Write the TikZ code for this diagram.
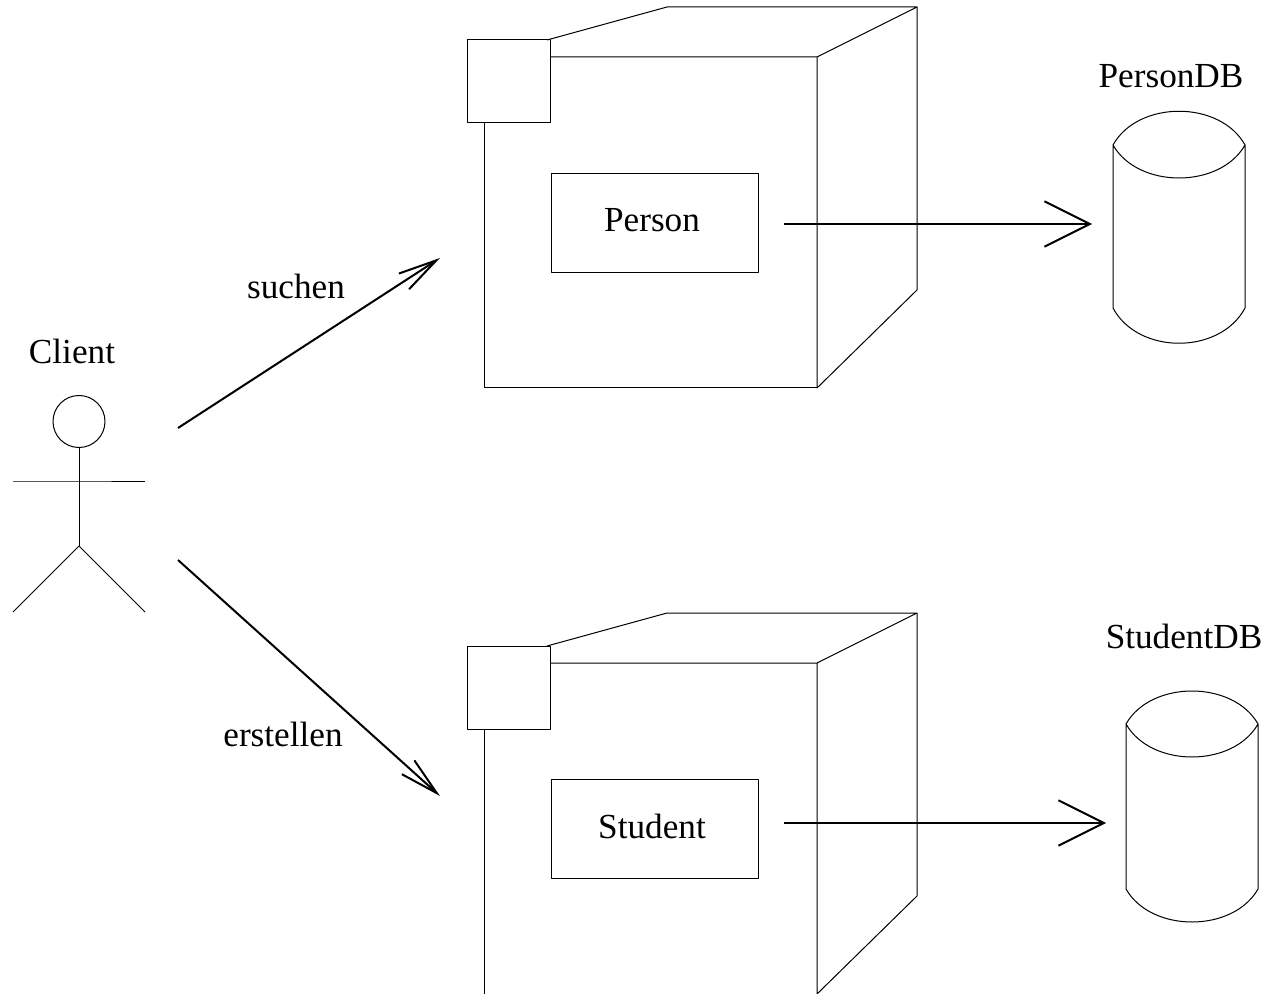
\documentclass[tikz,border=0pt]{standalone}
\usepackage{fontspec}
\setmainfont{Liberation Serif}
\usetikzlibrary{arrows.meta}

\begin{document}
\begin{tikzpicture}[x=0.75pt,y=-0.75pt]
  \tikzstyle{LabelStyle}=[inner sep=0pt,font=\fontsize{26.4}{30}\selectfont]
  \tikzstyle{LineStyle}=[line width=0.75pt,line join=round]
  \tikzstyle{BoxStyle}=[LineStyle,draw,inner sep=0pt]
  \tikzstyle{UseStyle}=[line width=1.5pt,-{Straight Barb[length=29pt,width=14pt,line width=1.5pt]}]
  \tikzstyle{StoreStyle}=[line width=1.5pt,-{Straight Barb[length=34pt,width=34pt,line width=1.5pt]}]
  \useasboundingbox (0,0) rectangle (1270,994);
  % client
  \node[BoxStyle,circle,minimum size=39pt] (Head) at (79,421.5) {};
  \coordinate (Hip) at (79,546);
  \coordinate (ArmL) at (13,481);
  \coordinate (ArmR) at (145,481);
  \coordinate (Neck) at (79,481);
  \coordinate (FootL) at (13,612);
  \coordinate (FootR) at (145,612);
  \draw[LineStyle] (Head.south) -- (Hip);
  \draw[LineStyle] (ArmL) -- (Neck) -- (ArmR);
  \draw[LineStyle] (FootL) -- (Hip) -- (FootR);
  \node[LabelStyle] (Client) at (72,351) {Client};
  % person component
  \node[BoxStyle,minimum width=62.25pt,minimum height=62.25pt] (PortA) at (509,81.5) {};
  \node[BoxStyle,minimum width=155.25pt,minimum height=74.25pt] (BoxA) at (654.5,223) {};
  \coordinate (A1) at (667,7);
  \coordinate (A2) at (917,7);
  \coordinate (A3) at (917,290);
  \coordinate (A4) at (817,57);
  \coordinate (A5) at (817,388);
  \coordinate (A6) at (484,388);
  \coordinate (A7) at (484,123);
  \coordinate (A8) at (551,57);
  \coordinate (A9) at (547,40);
  \draw[LineStyle] (A9) -- (A1) -- (A2) -- (A4) -- (A8);
  \draw[LineStyle] (A2) -- (A3) -- (A5) -- (A4);
  \draw[LineStyle] (A5) -- (A6) -- (A7);
  \node[LabelStyle] (Person) at (652,220) {Person};
  % student component
  \node[BoxStyle,minimum width=62.25pt,minimum height=62.25pt] (PortB) at (509,687.5) {};
  \node[BoxStyle,minimum width=155.25pt,minimum height=74.25pt] (BoxB) at (654.5,829) {};
  \coordinate (B1) at (667,613);
  \coordinate (B2) at (917,613);
  \coordinate (B3) at (917,896);
  \coordinate (B4) at (817,663);
  \coordinate (B5) at (817,994);
  \coordinate (B6) at (484,994);
  \coordinate (B7) at (484,729);
  \coordinate (B8) at (551,663);
  \coordinate (B9) at (547,646);
  \draw[LineStyle] (B9) -- (B1) -- (B2) -- (B4) -- (B8);
  \draw[LineStyle] (B2) -- (B3) -- (B5) -- (B4);
  \draw[LineStyle] (B6) -- (B7);
  \node[LabelStyle] (Student) at (652,826) {Student};
  % databases
  \coordinate (C1) at (1113,145);
  \coordinate (C2) at (1245,145);
  \coordinate (C3) at (1245,308);
  \coordinate (C4) at (1113,308);
  \draw[LineStyle] (C1) .. controls (1138,100) and (1220,100) .. (C2) -- (C3)
    .. controls (1220,355) and (1138,355) .. (C4) -- (C1)
    .. controls (1138,189) and (1220,189) .. (C2);
  \node[LabelStyle] (PersonDB) at (1171,76) {PersonDB};
  \coordinate (D1) at (1126,724);
  \coordinate (D2) at (1258,724);
  \coordinate (D3) at (1258,889);
  \coordinate (D4) at (1126,889);
  \draw[LineStyle] (D1) .. controls (1151,680) and (1233,680) .. (D2) -- (D3)
    .. controls (1233,933) and (1151,933) .. (D4) -- (D1)
    .. controls (1151,768) and (1233,768) .. (D2);
  \node[LabelStyle] (StudentDB) at (1184,636) {StudentDB};
  % connectors
  \coordinate (ClientUp) at (178,428);
  \coordinate (ClientDown) at (178,560);
  \coordinate (InA) at (440,258);
  \coordinate (InB) at (440,796);
  \coordinate (OutA) at (784,224);
  \coordinate (OutB) at (784,823);
  \coordinate (DbA) at (1092,224);
  \coordinate (DbB) at (1106,823);
  \draw[UseStyle] (ClientUp) -- (InA);
  \draw[UseStyle] (ClientDown) -- (InB);
  \draw[StoreStyle] (OutA) -- (DbA);
  \draw[StoreStyle] (OutB) -- (DbB);
  \node[LabelStyle] (Suchen) at (296,286) {suchen};
  \node[LabelStyle] (Erstellen) at (283,734) {erstellen};
\end{tikzpicture}
\end{document}
